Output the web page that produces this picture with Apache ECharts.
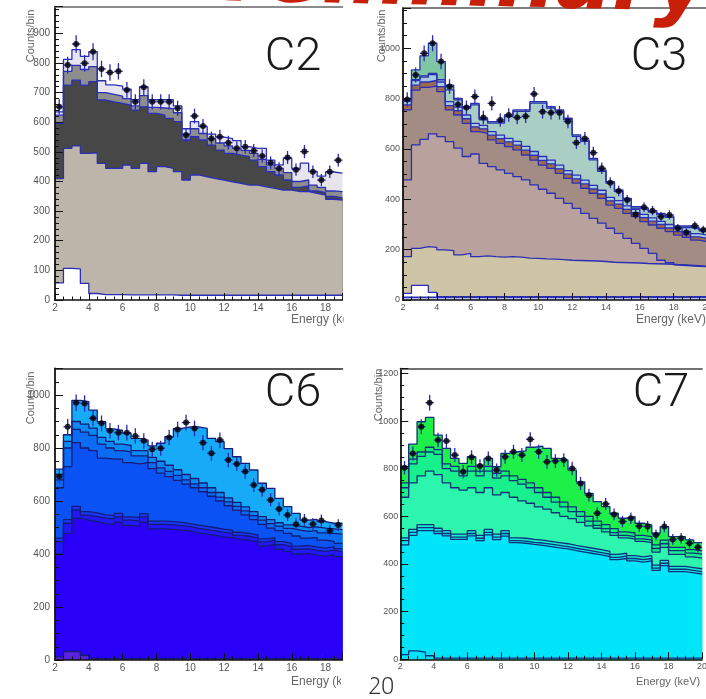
<!DOCTYPE html>
<html><head><meta charset="utf-8">
<script src="https://cdn.jsdelivr.net/npm/echarts@6/dist/echarts.min.js"></script>
<style>html,body{margin:0;padding:0;background:#fff}#c{width:706px;height:699px}</style>
</head><body><div id="c"></div><script>
// Histogram binning (keV)
const BIN_LO = 2;
const BIN_W = 0.5;

// ---------- C2 (cumulative outlines of stacked components, 2-19 keV) ----------
const c2Top    = [635,812,845,822,838,740,726,722,712,676,720,676,676,676,655,578,602,585,560,550,545,538,518,512,512,472,456,478,444,462,434,418,432,428];
const c2Medium = [624,772,792,778,788,700,694,688,680,655,690,650,648,646,632,560,578,562,545,530,520,512,505,495,475,456,444,430,400,405,388,380,368,366];
const c2Dark   = [596,725,742,725,737,675,669,664,658,641,652,630,624,613,602,540,551,540,523,506,495,489,484,472,450,433,422,405,380,385,368,362,350,345];
const c2Tan    = [410,512,520,495,497,461,444,444,455,444,461,433,450,444,433,405,422,416,410,405,399,394,388,388,382,377,371,371,366,366,360,354,340,337];
const c2Low    = [58,107,105,56,22,18,18,18,17,17,17,17,17,17,16,16,16,16,16,16,16,16,16,16,16,16,16,16,16,16,16,16,16,16];
const c2Data   = [652,793,864,799,838,780,768,772,709,669,718,669,669,669,647,557,621,587,545,551,531,512,517,504,486,463,444,481,440,501,433,405,433,472];

// ---------- C3 (2-20 keV) ----------
const c3Top   = [795,914,970,1020,947,854,801,768,781,722,709,709,735,755,755,788,788,768,755,722,656,636,563,517,470,437,404,371,364,355,344,334,294,294,289,281];
const c3Teal  = [792,875,890,900,875,835,795,762,775,716,703,703,729,749,749,782,782,762,749,716,650,630,557,511,464,431,398,365,358,349,338,328,288,288,283,275];
const c3Blue  = [790,872,885,895,866,788,766,735,702,694,669,655,642,630,610,590,570,556,536,514,496,476,455,436,408,395,374,360,340,326,312,300,283,273,264,258];
const c3Rust  = [775,854,866,872,848,772,752,720,688,680,655,641,628,615,595,575,555,541,521,500,481,461,441,421,394,381,360,347,327,313,300,286,272,262,251,245];
const c3Mauve = [755,834,845,850,828,755,735,702,669,662,636,622,609,596,576,556,536,523,503,483,464,444,424,404,377,364,344,331,311,298,285,272,258,249,238,232];
const c3Pink  = [477,616,638,660,649,629,603,570,580,543,530,517,503,490,477,457,440,424,404,384,364,344,324,305,285,265,245,225,205,185,158,148,140,138,136,134];
const c3Tan   = [172,205,212,209,199,196,179,185,172,175,172,170,172,170,166,165,163,162,160,158,157,156,155,153,150,149,148,147,145,144,143,142,138,136,134,132];
const c3Low   = [26,58,58,30,13,13,13,13,13,13,13,13,13,13,13,13,13,13,13,13,13,13,13,13,13,13,13,13,13,13,13,13,13,13,13,13];
const c3Base  = [11,11,11,11,11,11,11,11,11,11,11,11,11,11,11,11,11,11,11,11,11,11,11,11,11,11,11,11,11,11,11,11,11,11,11,11];
const c3Data  = [797,894,980,1020,947,848,777,765,808,725,781,715,735,725,730,818,748,744,744,709,625,642,585,523,466,433,397,340,368,355,331,338,285,268,295,278];

// ---------- C6 (2-19 keV) ----------
const c6Top    = [720,850,980,975,943,899,872,866,855,836,830,808,818,843,874,880,880,874,836,824,798,767,742,717,667,648,610,579,553,528,531,522,516,516];
const c6Azure  = [700,825,900,890,875,840,825,815,810,790,790,765,750,735,718,700,685,668,650,632,612,595,578,560,541,530,518,510,505,500,502,498,495,492];
const c6Mid    = [680,800,870,860,848,815,800,790,785,770,770,745,725,712,697,680,665,650,632,615,597,580,563,545,528,515,505,497,490,485,488,480,478,475];
const c6Blue   = [650,730,820,800,790,762,758,758,745,740,745,722,705,692,678,664,650,635,618,600,582,565,548,530,512,498,488,478,468,460,462,452,448,440];
const c6Band   = [460,530,580,560,555,548,545,553,540,537,552,524,524,522,519,515,509,504,499,494,490,482,478,472,457,462,447,440,430,432,426,422,428,420];
const c6Band2  = [447,516,566,547,541,535,532,540,528,525,540,512,512,510,507,503,497,492,487,482,478,470,467,460,446,452,435,428,418,420,414,410,415,408];
const c6Violet = [400,478,535,528,522,515,512,520,508,505,520,495,495,493,490,487,480,475,470,465,462,455,452,445,430,437,418,410,400,402,396,392,398,390];
const c6Low    = [12,32,32,18,6,5,5,5,5,5,5,5,5,5,5,5,5,5,5,5,5,5,5,5,5,5,5,5,5,5,5,5,5,5];
const c6Data   = [692,880,971,968,912,893,865,858,858,845,827,795,799,840,870,896,874,820,780,830,755,740,711,660,642,604,570,547,512,528,513,526,488,509];

// ---------- C7 (2-20 keV) ----------
const c7Top    = [808,903,997,1015,941,885,843,822,850,815,843,808,864,871,875,890,895,885,843,836,794,745,696,662,641,613,592,599,571,564,529,557,515,515,501,490];
const c7Green  = [740,840,870,890,880,820,810,790,810,790,810,780,790,770,755,740,720,700,680,660,640,620,600,580,565,548,535,530,520,515,480,500,470,470,460,455];
const c7Spring = [720,820,852,870,860,800,790,770,790,770,790,760,770,750,735,720,700,680,660,640,620,600,580,562,548,532,520,515,505,500,465,485,456,456,446,441];
const c7Aqua   = [680,740,770,790,775,740,720,710,720,700,720,690,700,680,665,655,640,630,615,600,590,575,560,550,535,520,510,505,495,490,450,470,440,440,430,425];
const c7Teal   = [510,545,565,565,550,540,525,525,540,520,545,525,540,510,508,503,500,495,490,485,478,472,466,460,453,440,445,435,430,435,395,415,390,390,385,380];
const c7Teal2  = [498,533,553,553,538,528,513,513,528,508,533,513,528,498,496,491,488,483,478,473,466,460,454,448,441,428,433,423,418,423,383,403,378,378,373,368];
const c7Cyan   = [480,520,540,540,528,518,503,503,518,498,522,502,517,490,487,482,478,473,468,463,456,450,444,438,431,418,423,413,408,413,373,393,368,368,363,358];
const c7Low    = [20,35,30,15,5,5,5,5,5,5,5,5,5,5,5,5,5,5,5,5,5,5,5,5,5,5,5,5,5,5,5,5,5,5,5,5];
const c7Data   = [804,864,976,1077,920,916,857,787,848,811,843,794,850,871,857,923,871,829,832,836,801,738,689,613,652,608,578,592,559,557,522,557,503,508,487,470];

const panels = [
  {label:'C2', grid:{left:55, top:6.7, width:287.5, height:293.3}, xMax:19, yMax:990, yInt:100, yMinor:5, fs:10, yMargin:5,
   line:'#2b2fb4', frame:'#666',
   layers:[[c2Top,'#e6e4ee'],[c2Medium,'#8e8e8e'],[c2Dark,'#474747'],[c2Tan,'#bdb4aa'],[c2Low,'#ffffff']], data:c2Data},
  {label:'C3', grid:{left:403, top:8, width:304.5, height:292}, xMax:20, yMax:1160, yInt:200, yMinor:4, fs:9, yMargin:3,
   line:'#2b2fb4', frame:'#555',
   layers:[[c3Top,'#7fc7a2'],[c3Teal,'#a9cfc5'],[c3Blue,'#a6cbdf'],[c3Rust,'#9c6a4e'],[c3Mauve,'#a38c83'],[c3Pink,'#b9a29e'],[c3Tan,'#cec5a6'],[c3Low,'#ffffff'],[c3Base,'#b4bde9']], data:c3Data},
  {label:'C6', grid:{left:55, top:368.5, width:287.5, height:291.5}, xMax:19, yMax:1100, yInt:200, yMinor:4, fs:10, yMargin:5,
   line:'#141c78', frame:'#222',
   layers:[[c6Top,'#17aaf6'],[c6Azure,'#0a88f2'],[c6Mid,'#0a6cf2'],[c6Blue,'#0b52f4'],[c6Band,'#1a36f6'],[c6Band2,'#2318f8'],[c6Violet,'#2a00f8'],[c6Low,'#5b22dd']], data:c6Data},
  {label:'C7', grid:{left:400.3, top:368.6, width:301.8, height:290.7}, xMax:20, yMax:1220, yInt:200, yMinor:4, fs:9, yMargin:2,
   line:'#12307a', frame:'#444',
   layers:[[c7Top,'#1ef04a'],[c7Green,'#12ee78'],[c7Spring,'#18f08e'],[c7Aqua,'#2ef5ae'],[c7Teal,'#14ecd4'],[c7Teal2,'#06e6ea'],[c7Cyan,'#00e5fa'],[c7Low,'#00e5fa']], data:c7Data}
];

function stepData(vals){
  const d = vals.map((v,i)=>[BIN_LO + i*BIN_W, v]);
  d.push([BIN_LO + vals.length*BIN_W, vals[vals.length-1]]);
  return d;
}
const plain = v => String(v);

const grid = [], xAxis = [], yAxis = [], series = [];
panels.forEach((p, i) => {
  grid.push(Object.assign({containLabel:false, outerBoundsMode:'none'}, p.grid));
  xAxis.push({gridIndex:i, type:'value', min:BIN_LO, max:p.xMax, interval:2, z:6,
    axisLine:{onZero:false, lineStyle:{color:'#111', width:1.5}},
    axisTick:{inside:true, length:7, lineStyle:{color:'#111', width:1}},
    minorTick:{show:true, splitNumber:4, length:3.5, lineStyle:{color:'#111', width:1}},
    axisLabel:{fontSize:p.fs, color:'#555', margin:3, fontFamily:'Liberation Sans', showMaxLabel:p.xMax===20, formatter:plain, hideOverlap:false},
    splitLine:{show:false}});
  yAxis.push({gridIndex:i, type:'value', min:0, max:p.yMax, interval:p.yInt, z:6,
    axisLine:{onZero:false, lineStyle:{color:'#111', width:1.8}},
    axisTick:{inside:true, length:8, lineStyle:{color:'#111', width:1}},
    minorTick:{show:true, splitNumber:p.yMinor, length:4, lineStyle:{color:'#111', width:1}},
    axisLabel:{fontSize:p.fs, color:'#555', margin:p.yMargin, fontFamily:'Liberation Sans', showMaxLabel:false, formatter:plain},
    splitLine:{show:false}});
});
// frame top lines
panels.forEach((p, i) => {
  xAxis.push({gridIndex:i, type:'value', position:'top', min:BIN_LO, max:p.xMax, z:6,
    axisLine:{onZero:false, lineStyle:{color:p.frame, width:1.5}},
    axisTick:{show:false}, axisLabel:{show:false}, splitLine:{show:false}});
});

panels.forEach((p, i) => {
  p.layers.forEach(([vals, col]) => {
    series.push({type:'line', xAxisIndex:i, yAxisIndex:i, step:'end', symbol:'none', silent:true,
      data: stepData(vals), lineStyle:{color:p.line, width:1.3}, areaStyle:{color:col, opacity:1}, z:2});
  });
  const pts = p.data.map((v,k)=>[BIN_LO + (k+0.5)*BIN_W, v]);
  series.push({type:'custom', xAxisIndex:i, yAxisIndex:i, z:3, silent:true, data:pts,
    renderItem:(params, api)=>{
      const x = api.value(0), y = api.value(1), e = Math.sqrt(y);
      const a = api.coord([x, y-e]), b = api.coord([x, y+e]);
      const l = api.coord([x-BIN_W/2, y]), r = api.coord([x+BIN_W/2, y]);
      const st = {stroke:'#2a2ab8', lineWidth:1.3};
      return {type:'group', children:[
        {type:'line', shape:{x1:a[0], y1:a[1], x2:b[0], y2:b[1]}, style:st},
        {type:'line', shape:{x1:l[0], y1:l[1], x2:r[0], y2:r[1]}, style:st}
      ]};
    }});
  series.push({type:'scatter', xAxisIndex:i, yAxisIndex:i, z:4, silent:true, data:pts,
    symbol:'circle', symbolSize:6, itemStyle:{color:'#000'}});
});

function txt(x, y, text, font, color, align, valign, rot){
  return {type:'text', x:x, y:y, rotation:rot||0, z:20,
    style:{text:text, font:font, fill:color, align:align, verticalAlign:valign, textAlign:align, textVerticalAlign:valign}};
}
const graphic = [
  txt(164, 19, 'Preliminary', 'italic bold 84px "DejaVu Sans"', '#c82008', 'left', 'bottom', -0.022),
  txt(293, 58, 'C2', '300 47px Roboto', '#1a1a1a', 'center', 'middle'),
  txt(659, 58, 'C3', '300 47px Roboto', '#1a1a1a', 'center', 'middle'),
  txt(293, 394, 'C6', '300 47px Roboto', '#1a1a1a', 'center', 'middle'),
  txt(661, 394, 'C7', '300 47px Roboto', '#1a1a1a', 'center', 'middle'),
  txt(381, 688, '20', '300 24px Roboto', '#333', 'center', 'middle'),
  txt(291, 320, 'Energy (keV)', '12px "Liberation Sans"', '#666', 'left', 'middle'),
  txt(636, 320, 'Energy (keV)', '12px "Liberation Sans"', '#666', 'left', 'middle'),
  txt(291, 682, 'Energy (keV)', '12px "Liberation Sans"', '#666', 'left', 'middle'),
  txt(636, 682, 'Energy (keV)', '11px "Liberation Sans"', '#666', 'left', 'middle'),
  {type:'rect', shape:{x:343.5, y:312, width:30, height:16}, style:{fill:'#fff'}, z:21},
  {type:'rect', shape:{x:341, y:673, width:30, height:17}, style:{fill:'#fff'}, z:21},
  txt(31, 36, 'Counts/bin', '11px "Liberation Sans"', '#666', 'center', 'middle', Math.PI/2),
  txt(382, 36, 'Counts/bin', '11px "Liberation Sans"', '#666', 'center', 'middle', Math.PI/2),
  txt(31, 398, 'Counts/bin', '11px "Liberation Sans"', '#666', 'center', 'middle', Math.PI/2),
  txt(379, 395, 'Counts/bin', '11px "Liberation Sans"', '#666', 'center', 'middle', Math.PI/2)
];

const chart = echarts.init(document.getElementById('c'), null, {renderer:'canvas'});
chart.setOption({animation:false, backgroundColor:'#fff', grid, xAxis, yAxis, series, graphic});
</script></body></html>
